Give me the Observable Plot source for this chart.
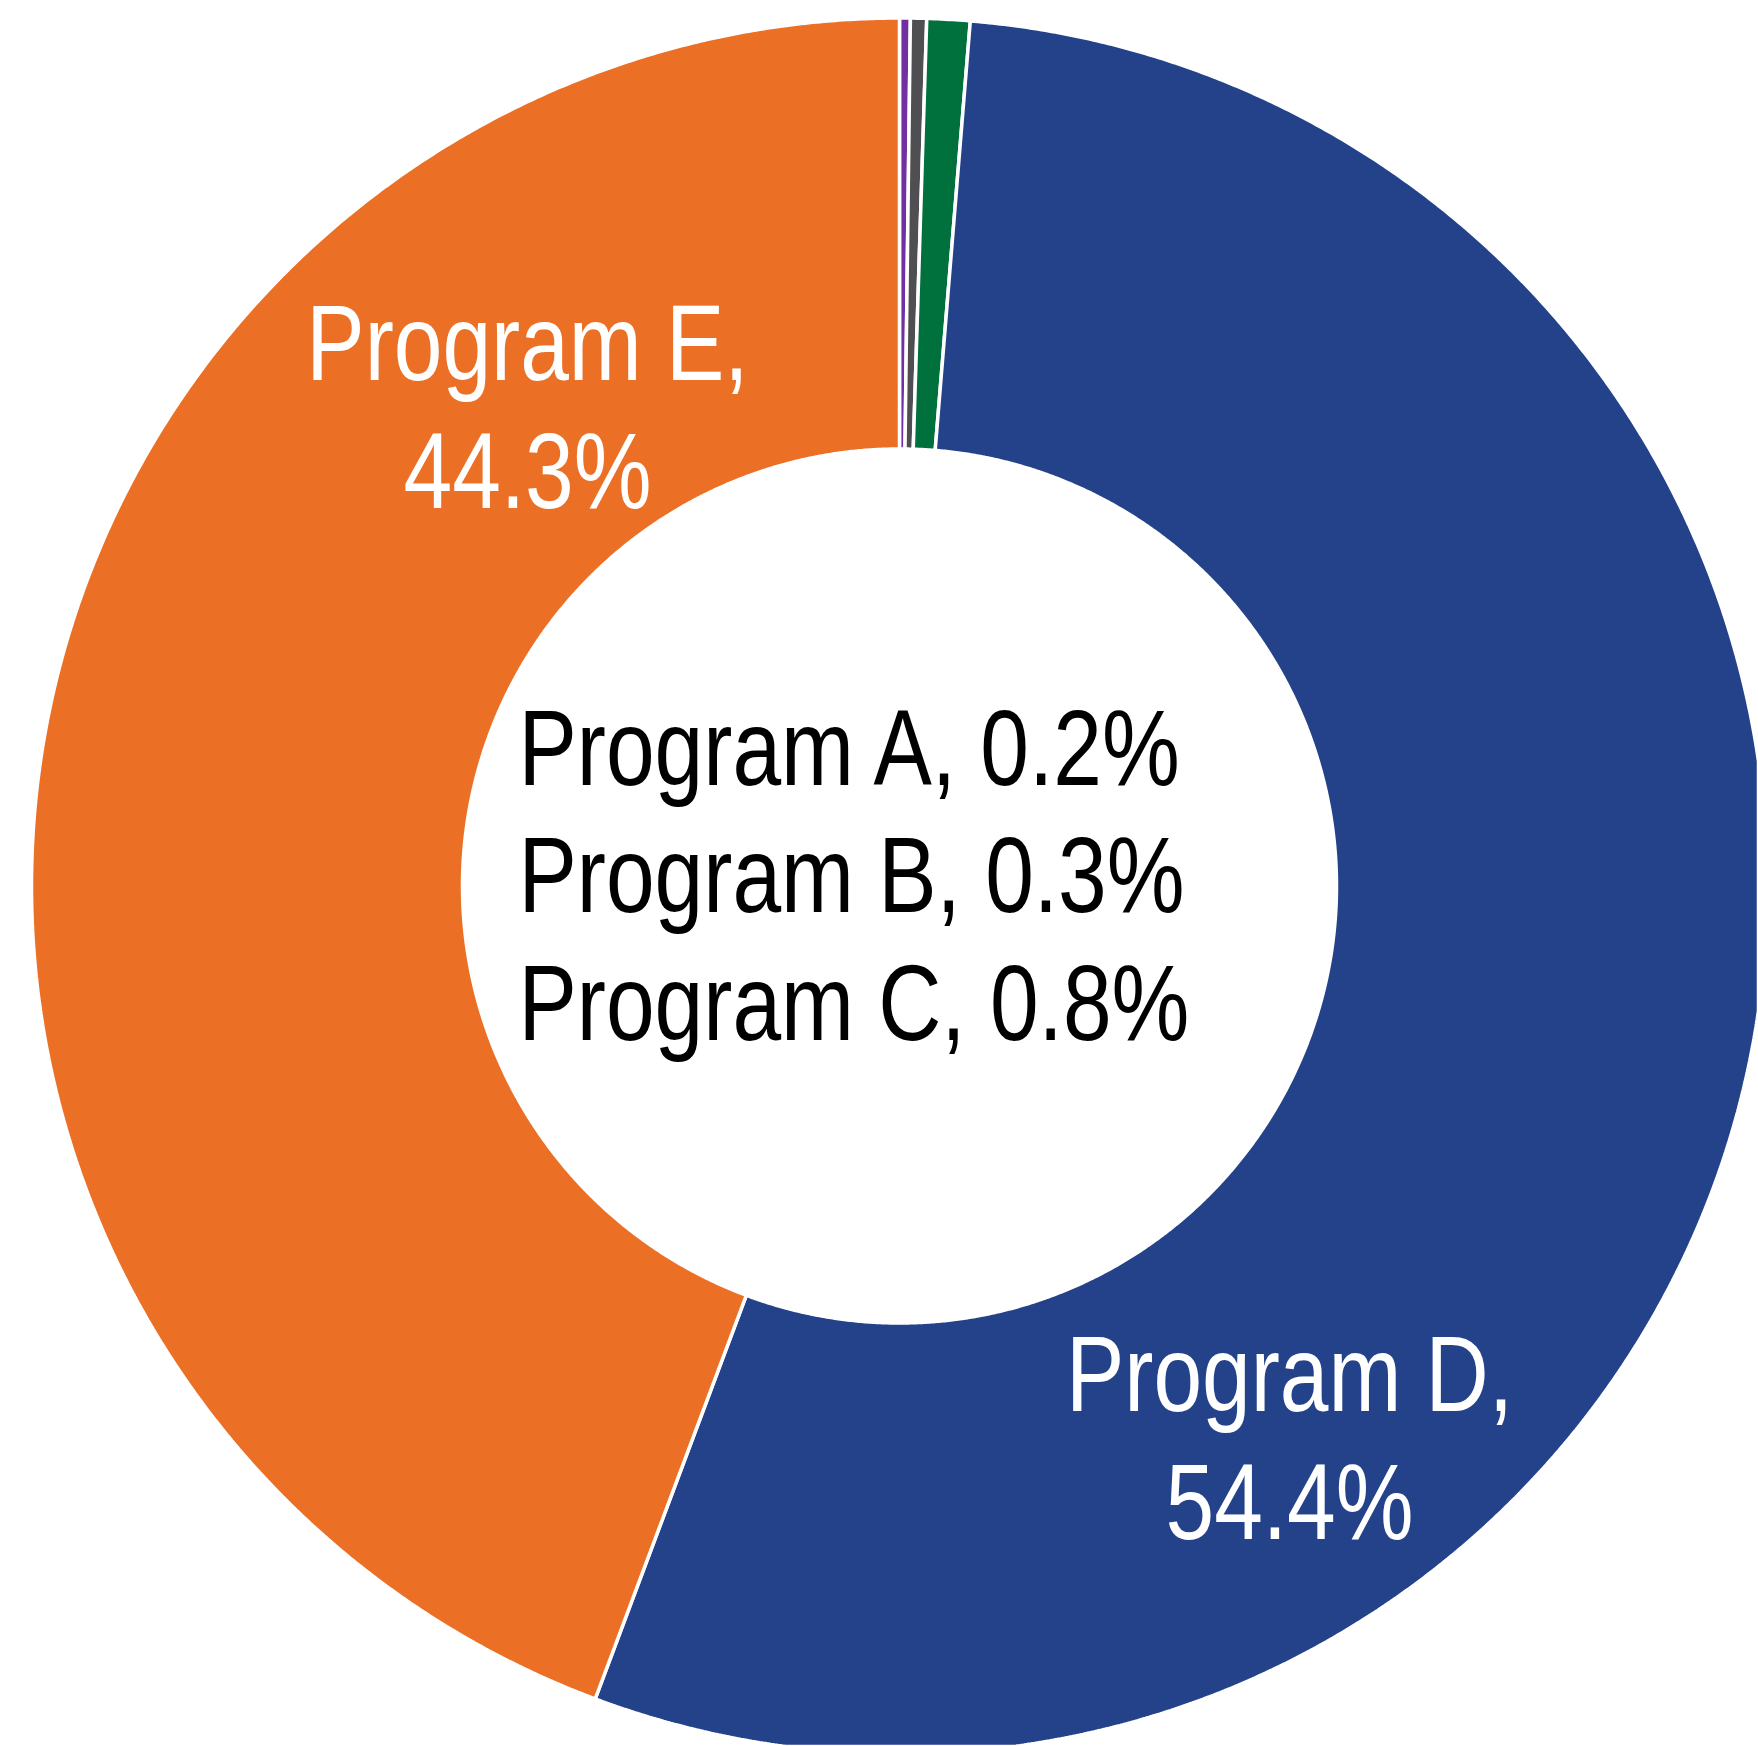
<!DOCTYPE html>
<html>
<head>
<meta charset="utf-8">
<script src="https://cdn.jsdelivr.net/npm/d3@7"></script>
<script src="https://cdn.jsdelivr.net/npm/@observablehq/plot@0.6"></script>
<style>
  html, body { margin: 0; padding: 0; background: #ffffff; overflow: hidden; }
  #chart svg { display: block; overflow: hidden; }
</style>
</head>
<body>
<div id="chart"></div>
<script>
// ---- data ----
const programs = ["Program A", "Program B", "Program C", "Program D", "Program E"];
const shares = [0.2, 0.3, 0.8, 54.4, 44.3];

// ---- styles ----
const palette = ["#7030A0", "#4F4F51", "#00703C", "#24428A", "#EB7026"];
const W = 1758, H = 1746;
const CX = 899, CY = 885.5, R = 868, R_IN = 437;   // donut layout in pixels
const FONT = 108;

// label placement (pixels): anchor x, baseline of last line
const labelLayout = {
  "Program E": {x: 527, y: 507, anchor: "middle", fill: "white"},
  "Program D": {x: 1289, y: 1538, anchor: "middle", fill: "white"},
  center: {x: 518, y: 1039, anchor: "start", fill: "black"}
};

// ---- geometry in unit radius space (y up) ----
const total = d3.sum(shares);
const innerRatio = R_IN / R;
let cum = 0;
const slices = programs.map((p, i) => {
  const a0 = cum / total * 2 * Math.PI;
  cum += shares[i];
  const a1 = cum / total * 2 * Math.PI;
  const n = Math.max(4, Math.ceil((a1 - a0) / (Math.PI / 720)));
  const angles = d3.range(n + 1).map(k => a0 + (a1 - a0) * k / n);
  const outer = angles.map(a => [Math.sin(a), Math.cos(a)]);
  const inner = angles.slice().reverse().map(a => [innerRatio * Math.sin(a), innerRatio * Math.cos(a)]);
  const ring = [...outer, ...inner, outer[0]];
  return {type: "Feature", properties: {program: p, share: shares[i]},
          geometry: {type: "Polygon", coordinates: [ring]}};
});

const toUnit = (px, py) => [(px - CX) / R, (CY - py) / R];
const domain = {type: "MultiPoint", coordinates: [toUnit(0, 0), toUnit(W, H)]};

const fmt = v => `${v.toFixed(1)}%`;
const labels = [
  {text: `Program E,\n${fmt(shares[4])}`, ...labelLayout["Program E"]},
  {text: `Program D,\n${fmt(shares[3])}`, ...labelLayout["Program D"]},
  {text: programs.slice(0, 3).map((p, i) => `${p}, ${fmt(shares[i])}`).join("\n"), ...labelLayout.center}
].map(d => { const [ux, uy] = toUnit(d.x, d.y); return {...d, ux, uy}; });

// font: narrow Arial-like face
function hasFont(name) {
  const c = document.createElement("canvas").getContext("2d");
  c.font = `100px monospace`; const a = c.measureText("Program E, 44.3%").width;
  c.font = `100px '${name}', monospace`; const b = c.measureText("Program E, 44.3%").width;
  return Math.abs(a - b) > 0.5;
}
const narrow = hasFont("Liberation Sans Narrow");
const fontFamily = narrow ? "'Liberation Sans Narrow', 'Arial Narrow', sans-serif" : "'Liberation Sans', Arial, sans-serif";

const textMark = (d) => Plot.text([d], {
  x: "ux", y: "uy", text: "text",
  textAnchor: d.anchor, lineAnchor: "bottom", lineHeight: 1.18,
  fill: d.fill, fontSize: FONT, fontFamily, className: "lbl"
});

const chart = Plot.plot({
  width: W, height: H,
  margin: 0,
  style: {background: "white", fontFamily},
  projection: {type: "reflect-y", domain, inset: 0},
  color: {type: "ordinal", domain: programs, range: palette},
  marks: [
    Plot.geo(slices, {fill: d => d.properties.program, stroke: "white", strokeWidth: 3.5, strokeLinejoin: "miter"}),
    ...labels.map(textMark)
  ]
});
document.getElementById("chart").appendChild(chart);

if (!narrow) {
  chart.querySelectorAll("g.lbl text").forEach(t => {
    const tr = t.getAttribute("transform") || "";
    t.setAttribute("transform", tr + " scale(0.81,1)");
  });
}
</script>
</body>
</html>
